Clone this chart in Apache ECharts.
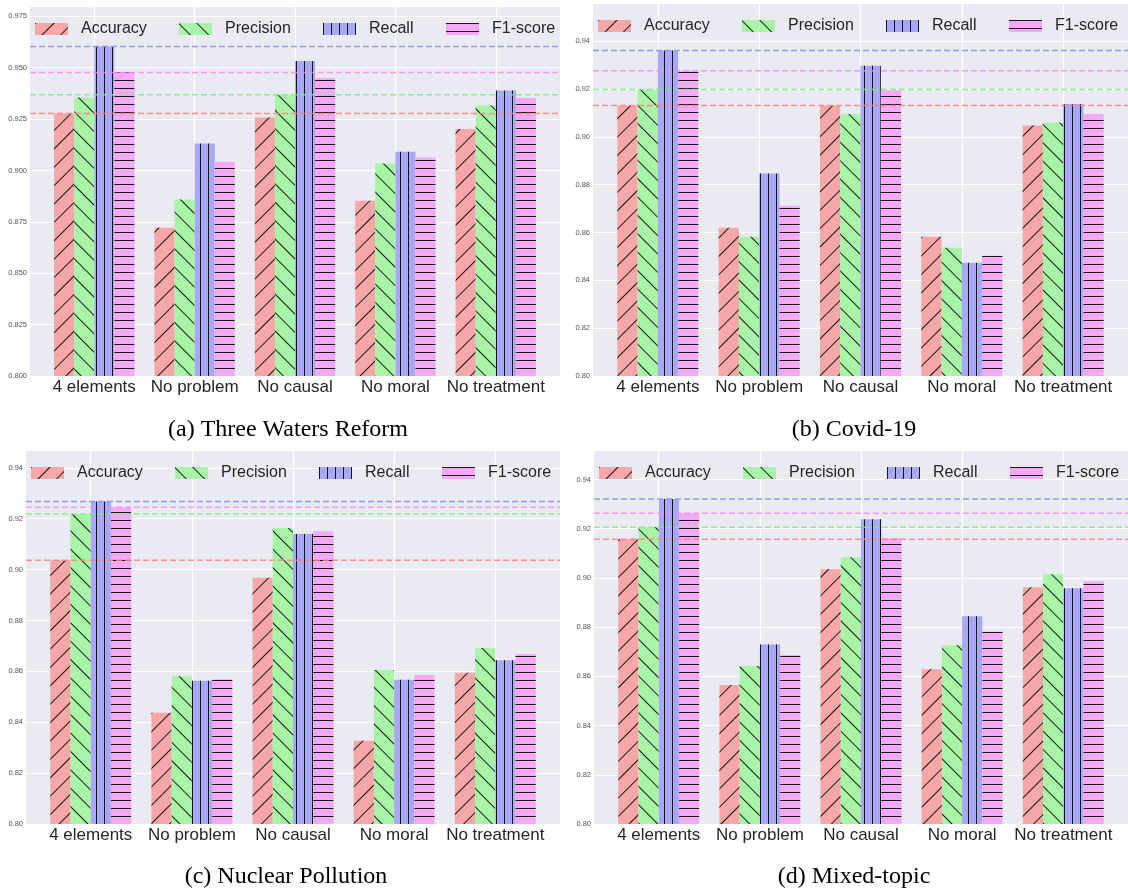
<!DOCTYPE html>
<html>
<head>
<meta charset="utf-8">
<script src="https://cdn.jsdelivr.net/npm/echarts@6/dist/echarts.min.js"></script>
<style>
html,body{margin:0;padding:0;background:#fff;}
#chart{width:1128px;height:890px;}
</style>
</head>
<body>
<div id="chart"></div>
<script>
// ---- data ----
const categories = ['4 elements', 'No problem', 'No causal', 'No moral', 'No treatment'];
const metrics = ['Accuracy', 'Precision', 'Recall', 'F1-score'];

const threeWatersAccuracy  = [0.9277, 0.8721, 0.9257, 0.8852, 0.9202];
const threeWatersPrecision = [0.9355, 0.8859, 0.9368, 0.9034, 0.9316];
const threeWatersRecall    = [0.9603, 0.9131, 0.9533, 0.9091, 0.9389];
const threeWatersF1        = [0.9476, 0.9042, 0.9450, 0.9063, 0.9353];

const covidAccuracy  = [0.9131, 0.8620, 0.9131, 0.8582, 0.9048];
const covidPrecision = [0.9198, 0.8582, 0.9096, 0.8536, 0.9059];
const covidRecall    = [0.9361, 0.8847, 0.9298, 0.8474, 0.9138];
const covidF1        = [0.9277, 0.8712, 0.9195, 0.8503, 0.9096];

const nuclearAccuracy  = [0.9037, 0.8437, 0.8968, 0.8327, 0.8594];
const nuclearPrecision = [0.9218, 0.8581, 0.9163, 0.8605, 0.8692];
const nuclearRecall    = [0.9268, 0.8563, 0.9140, 0.8567, 0.8644];
const nuclearF1        = [0.9245, 0.8569, 0.9151, 0.8586, 0.8668];

const mixedAccuracy  = [0.9157, 0.8565, 0.9035, 0.8629, 0.8962];
const mixedPrecision = [0.9206, 0.8642, 0.9084, 0.8726, 0.9015];
const mixedRecall    = [0.9321, 0.8730, 0.9239, 0.8844, 0.8958];
const mixedF1        = [0.9263, 0.8687, 0.9161, 0.8782, 0.8987];

const captions = ['(a) Three Waters Reform', '(b) Covid-19', '(c) Nuclear Pollution', '(d) Mixed-topic'];

// ---- layout / style ----
const panels = [
  {caption: captions[0], series: [threeWatersAccuracy, threeWatersPrecision, threeWatersRecall, threeWatersF1],
   L: 30, R: 560, T: 6, B: 376, min: 0.8, max: 0.980, interval: 0.025, digits: 3, capX: 288, capY: 418},
  {caption: captions[1], series: [covidAccuracy, covidPrecision, covidRecall, covidF1],
   L: 593, R: 1128, T: 3, B: 376, min: 0.8, max: 0.956, interval: 0.02, digits: 2, capX: 854, capY: 418},
  {caption: captions[2], series: [nuclearAccuracy, nuclearPrecision, nuclearRecall, nuclearF1],
   L: 26, R: 560, T: 450, B: 824, min: 0.8, max: 0.947, interval: 0.02, digits: 2, capX: 286, capY: 865},
  {caption: captions[3], series: [mixedAccuracy, mixedPrecision, mixedRecall, mixedF1],
   L: 594, R: 1128, T: 450, B: 824, min: 0.8, max: 0.952, interval: 0.02, digits: 2, capX: 854, capY: 865}
];

const barColors = ['#F7A7A7', '#A8F5A8', '#A8A8F6', '#F8A8F8'];
const dashColors = ['rgba(248,130,130,0.85)', 'rgba(130,235,130,0.85)', 'rgba(140,140,245,0.85)', 'rgba(245,140,245,0.85)'];
const hatch = 'rgba(0,0,0,0.88)';
const decals = [
  {symbol: 'rect', symbolSize: 1, color: hatch, dashArrayX: [10, 0], dashArrayY: [1, 11.7], rotation: -Math.PI / 4},
  {symbol: 'rect', symbolSize: 1, color: hatch, dashArrayX: [10, 0], dashArrayY: [1, 11.7], rotation: Math.PI / 4},
  {symbol: 'rect', symbolSize: 1, color: hatch, dashArrayX: [1, 7], dashArrayY: [10, 0], rotation: 0},
  {symbol: 'rect', symbolSize: 1, color: hatch, dashArrayX: [10, 0], dashArrayY: [1, 6.5], rotation: 0}
];
const legendOffsets = [5, 149, 293, 416];
const sans = "'Liberation Sans', Arial, sans-serif";
const serif = "'Liberation Serif', 'Times New Roman', serif";

const grid = [], xAxis = [], yAxis = [], series = [], legend = [], title = [];

panels.forEach((p, pi) => {
  const W = p.R - p.L, H = p.B - p.T;
  const u = W / 5.28;
  const gBg = pi * 3, gV = pi * 3 + 1, gBar = pi * 3 + 2;
  grid.push({left: p.L, top: p.T, width: W, height: H, show: true, backgroundColor: '#EAEAF2', borderWidth: 0, containLabel: false});
  grid.push({left: p.L + 0.64 * u, top: p.T, width: W - 1.28 * u, height: H, show: false, containLabel: false});
  grid.push({left: p.L + 0.14 * u, top: p.T, width: W - 0.28 * u, height: H, show: false, containLabel: false});

  xAxis.push({gridIndex: gBg, type: 'value', min: 0, max: 1, show: false});
  xAxis.push({gridIndex: gV, type: 'category', data: categories, boundaryGap: false,
    axisLine: {show: false}, axisTick: {show: false}, axisLabel: {show: false},
    splitLine: {show: true, lineStyle: {color: '#ffffff', width: 1.2}}});
  xAxis.push({gridIndex: gBar, type: 'category', data: categories, boundaryGap: true,
    axisLine: {show: false}, axisTick: {show: false}, splitLine: {show: false},
    axisLabel: {show: true, fontSize: 17, color: '#262626', fontFamily: sans, margin: 3, interval: 0}});

  yAxis.push({gridIndex: gBg, type: 'value', min: p.min, max: p.max, interval: p.interval,
    axisLine: {show: false}, axisTick: {show: false},
    axisLabel: {show: true, fontSize: 7.5, color: '#555', fontFamily: sans, margin: 3, showMaxLabel: false,
      formatter: v => v.toFixed(p.digits)},
    splitLine: {show: true, lineStyle: {color: '#ffffff', width: 1.2}}});
  yAxis.push({gridIndex: gV, type: 'value', min: p.min, max: p.max, show: false});
  yAxis.push({gridIndex: gBar, type: 'value', min: p.min, max: p.max, show: false});

  p.series.forEach((vals, mi) => {
    series.push({
      type: 'bar', name: metrics[mi], xAxisIndex: gBar, yAxisIndex: gBar, data: vals,
      barGap: '0%', barCategoryGap: '20%',
      itemStyle: {color: barColors[mi], decal: decals[mi], borderWidth: 0},
      emphasis: {disabled: true}, silent: true, z: 2
    });
    const m = Math.max(...vals);
    series.push({
      type: 'line', xAxisIndex: gBg, yAxisIndex: gBg, data: [[0, m], [1, m]],
      symbol: 'none', silent: true, z: 5,
      lineStyle: {color: dashColors[mi], width: 1.5, type: [6, 3]}
    });
    legend.push({
      show: true, data: [metrics[mi]], left: p.L + legendOffsets[mi], top: p.T + 15,
      orient: 'horizontal', padding: 0, itemWidth: 33, itemHeight: 12, icon: 'rect',
      selectedMode: false,
      textStyle: {fontSize: 16, color: '#262626', fontFamily: sans, padding: [0, 0, 0, 8]}
    });
  });

  title.push({text: p.caption, left: p.capX, top: p.capY, textAlign: 'center', padding: 0,
    textStyle: {fontFamily: serif, fontSize: 24, fontWeight: 'normal', color: '#000'}});
});

const chart = echarts.init(document.getElementById('chart'), null, {renderer: 'canvas'});
chart.setOption({
  animation: false,
  backgroundColor: '#ffffff',
  title, grid, xAxis, yAxis, series, legend,
  tooltip: {show: false}
});
</script>
</body>
</html>
